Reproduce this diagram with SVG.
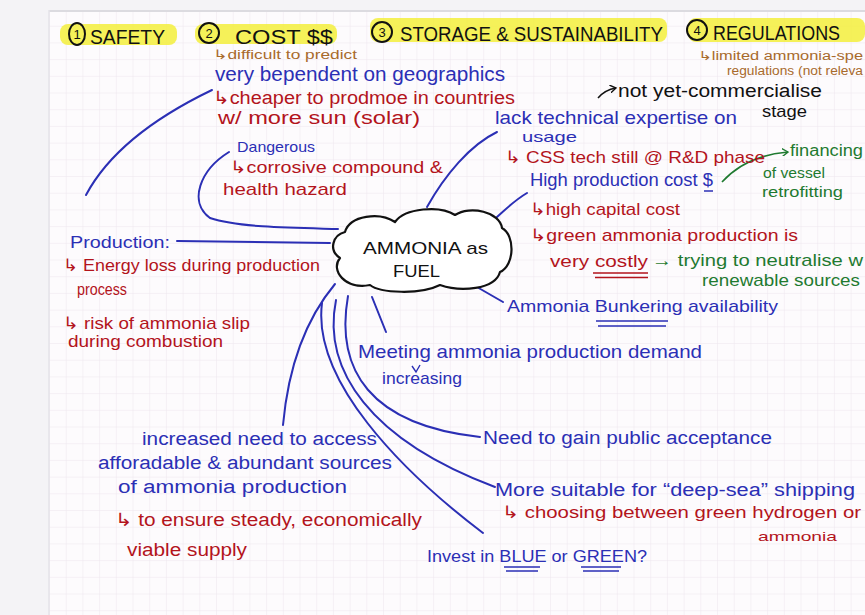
<svg xmlns="http://www.w3.org/2000/svg" width="865" height="615" viewBox="0 0 865 615">
<style>
text{font-family:"Liberation Sans","DejaVu Sans",sans-serif;}
.b{fill:#2b2fb5}
.r{fill:#b3141c}
.g{fill:#1f7a30}
.br{fill:#a86a2c}
.k{fill:#111}
.h{fill:#111;font-size:20px}
.hl{fill:#f3ef3c;opacity:0.85}
.ln{fill:none;stroke:#2b2fb5;stroke-width:2;stroke-linecap:round}
.cl{fill:#fff;stroke:#111;stroke-width:2.2;stroke-linejoin:round}
.circ{fill:none;stroke:#111;stroke-width:2}
</style>
<defs>
<pattern id="grid" x="50" y="10" width="16.7" height="16.7" patternUnits="userSpaceOnUse">
<path d="M16.7 0 V16.7 M0 16.7 H16.7" fill="none" stroke="#ede6ee" stroke-width="1"/>
</pattern>
<marker id="ah" markerWidth="8" markerHeight="8" refX="6" refY="4" orient="auto" markerUnits="userSpaceOnUse">
<path d="M0 0 L6 4 L0 8" fill="none" stroke="context-stroke" stroke-width="1.4"/>
</marker>
</defs>
<rect width="865" height="615" fill="#f4f3f6"/>
<rect x="49" y="10" width="816" height="605" fill="#fdfbfd"/>
<rect x="49" y="10" width="816" height="605" fill="url(#grid)"/>
<line x1="49" y1="11" x2="865" y2="11" stroke="#dcdbe0" stroke-width="2"/>
<line x1="49" y1="10" x2="49" y2="615" stroke="#e4e3e8" stroke-width="1.5"/>

<g id="headers">
<rect class="hl" x="60" y="24" width="117" height="21" rx="8"/>
<rect class="hl" x="195" y="24" width="142" height="20" rx="8"/>
<rect class="hl" x="370" y="18" width="297" height="24" rx="8"/>
<rect class="hl" x="688" y="18" width="177" height="24" rx="8"/>
<ellipse class="circ" cx="77" cy="34" rx="8" ry="11"/>
<text class="k" x="77" y="39" font-size="13" text-anchor="middle">1</text>
<text class="h" x="90" y="44" textLength="75" lengthAdjust="spacingAndGlyphs">SAFETY</text>
<circle class="circ" cx="209" cy="33" r="10"/>
<text class="k" x="209" y="38" font-size="13" text-anchor="middle">2</text>
<text class="h" x="235" y="44" textLength="98" lengthAdjust="spacingAndGlyphs">COST $$</text>
<circle class="circ" cx="382" cy="32" r="10"/>
<text class="k" x="382" y="37" font-size="13" text-anchor="middle">3</text>
<text class="h" x="400" y="41" textLength="263" lengthAdjust="spacingAndGlyphs">STORAGE &amp; SUSTAINABILITY</text>
<circle class="circ" cx="697" cy="30" r="10"/>
<text class="k" x="697" y="35" font-size="13" text-anchor="middle">4</text>
<text class="h" x="713" y="40" textLength="127" lengthAdjust="spacingAndGlyphs">REGULATIONS</text>
</g>

<g id="connectors">
<path class="ln" d="M212 90 C160 115 110 150 86 195"/>
<path class="ln" d="M229 152 C200 170 188 202 210 218 C240 228 300 228 338 229"/>
<path class="ln" d="M177 241 L330 243"/>
<path class="ln" d="M427 207 C445 175 470 145 497 132"/>
<path class="ln" d="M497 217 C507 208 515 200 527 193"/>
<path class="ln" d="M470 283 L503 302"/>
<path class="ln" d="M335 284 C305 320 288 370 283 425"/>
<path class="ln" d="M372 297 L386 332"/>
<path class="ln" d="M348 296 C335 370 370 425 480 437"/>
<path class="ln" d="M336 300 C322 370 370 440 495 487"/>
<path class="ln" d="M322 303 C312 380 400 470 483 533"/>
<path d="M598 98 C603 92 610 89 616 88" fill="none" stroke="#111" stroke-width="1.5" marker-end="url(#ah)"/>
<path d="M722 182 C740 162 765 154 788 152" fill="none" stroke="#1f7a30" stroke-width="1.6" marker-end="url(#ah)"/>
</g>

<g id="node-ammonia">
<path class="cl" d="M345 232 C350 215 380 212 395 222 C405 208 440 205 455 215 C470 205 500 212 502 228 C515 235 515 265 500 272 C495 290 460 292 440 285 C420 295 380 293 370 285 C345 290 330 270 340 258 C328 250 333 235 345 232 Z"/>
<text class="k" x="363" y="254" font-size="17" textLength="125" lengthAdjust="spacingAndGlyphs">AMMONIA as</text>
<text class="k" x="393" y="277" font-size="17" textLength="47" lengthAdjust="spacingAndGlyphs">FUEL</text>
</g>

<g id="node-geographics">
<text class="br" x="213" y="59" font-size="13" textLength="144" lengthAdjust="spacingAndGlyphs">↳difficult to predict</text>
<text class="b" x="215" y="81" font-size="20" textLength="290" lengthAdjust="spacingAndGlyphs">very bependent on geographics</text>
<text class="r" x="213" y="104" font-size="18" textLength="302" lengthAdjust="spacingAndGlyphs">↳cheaper to prodmoe in countries</text>
<text class="r" x="218" y="124" font-size="18" textLength="202" lengthAdjust="spacingAndGlyphs">w/ more sun (solar)</text>
</g>

<g id="node-dangerous">
<text class="b" x="237" y="152" font-size="15" textLength="78" lengthAdjust="spacingAndGlyphs">Dangerous</text>
<text class="r" x="230" y="173" font-size="17" textLength="213" lengthAdjust="spacingAndGlyphs">↳corrosive compound &amp;</text>
<text class="r" x="223" y="195" font-size="17" textLength="124" lengthAdjust="spacingAndGlyphs">health hazard</text>
</g>

<g id="node-regulations">
<text class="br" x="698" y="60" font-size="12.5" textLength="165" lengthAdjust="spacingAndGlyphs">↳limited ammonia-spe</text>
<text class="br" x="727" y="75" font-size="12.5" textLength="136" lengthAdjust="spacingAndGlyphs">regulations (not releva</text>
</g>

<g id="node-expertise">
<text class="k" x="618" y="97" font-size="18" textLength="204" lengthAdjust="spacingAndGlyphs">not yet-commercialise</text>
<text class="k" x="762" y="117" font-size="17" textLength="45" lengthAdjust="spacingAndGlyphs">stage</text>
<text class="b" x="495" y="124" font-size="19" textLength="242" lengthAdjust="spacingAndGlyphs">lack technical expertise on</text>
<text class="b" x="522" y="142" font-size="15" textLength="55" lengthAdjust="spacingAndGlyphs">usage</text>
<text class="r" x="505" y="163" font-size="17" textLength="260" lengthAdjust="spacingAndGlyphs">↳ CSS tech still @ R&amp;D phase</text>
</g>

<g id="node-cost">
<text class="g" x="790" y="156" font-size="16" textLength="73" lengthAdjust="spacingAndGlyphs">financing</text>
<text class="g" x="763" y="178" font-size="15" textLength="62" lengthAdjust="spacingAndGlyphs">of vessel</text>
<text class="g" x="762" y="197" font-size="15" textLength="81" lengthAdjust="spacingAndGlyphs">retrofitting</text>
<text class="b" x="530" y="186" font-size="18" textLength="183" lengthAdjust="spacingAndGlyphs">High production cost $</text>
<line x1="704" y1="191" x2="713" y2="191" stroke="#2b2fb5" stroke-width="1.5"/>
<text class="r" x="530" y="215" font-size="17" textLength="150" lengthAdjust="spacingAndGlyphs">↳high capital cost</text>
<text class="r" x="530" y="241" font-size="17" textLength="268" lengthAdjust="spacingAndGlyphs">↳green ammonia production is</text>
<text class="r" x="550" y="267" font-size="17" textLength="98" lengthAdjust="spacingAndGlyphs">very costly</text>
<path d="M593 273 H648 M595 277.5 H648" stroke="#b3141c" stroke-width="1.5" fill="none"/>
<text class="g" x="652" y="266" font-size="17" textLength="211" lengthAdjust="spacingAndGlyphs">→ trying to neutralise w</text>
<text class="g" x="702" y="286" font-size="17" textLength="158" lengthAdjust="spacingAndGlyphs">renewable sources</text>
</g>

<g id="node-bunkering">
<text class="b" x="507" y="312" font-size="17" textLength="271" lengthAdjust="spacingAndGlyphs">Ammonia Bunkering availability</text>
<path d="M596 321 H668 M598 326 H666" stroke="#2b2fb5" stroke-width="1.5" fill="none"/>
</g>

<g id="node-production">
<text class="b" x="70" y="248" font-size="17" textLength="100" lengthAdjust="spacingAndGlyphs">Production:</text>
<text class="r" x="63" y="271" font-size="17" textLength="257" lengthAdjust="spacingAndGlyphs">↳ Energy loss during production</text>
<text class="r" x="77" y="295" font-size="16" textLength="50" lengthAdjust="spacingAndGlyphs">process</text>
<text class="r" x="63" y="329" font-size="17" textLength="187" lengthAdjust="spacingAndGlyphs">↳ risk of ammonia slip</text>
<text class="r" x="68" y="347" font-size="17" textLength="155" lengthAdjust="spacingAndGlyphs">during combustion</text>
</g>

<g id="node-demand">
<text class="b" x="358" y="358" font-size="19" textLength="344" lengthAdjust="spacingAndGlyphs">Meeting ammonia production demand</text>
<path d="M412 366 L416 372 L420 365" fill="none" stroke="#2b2fb5" stroke-width="1.4"/>
<text class="b" x="382" y="384" font-size="17" textLength="80" lengthAdjust="spacingAndGlyphs">increasing</text>
</g>

<g id="node-access">
<text class="b" x="142" y="445" font-size="18" textLength="235" lengthAdjust="spacingAndGlyphs">increased need to access</text>
<text class="b" x="98" y="469" font-size="18" textLength="294" lengthAdjust="spacingAndGlyphs">afforadable &amp; abundant sources</text>
<text class="b" x="118" y="493" font-size="18" textLength="229" lengthAdjust="spacingAndGlyphs">of ammonia production</text>
<text class="r" x="115" y="526" font-size="18" textLength="307" lengthAdjust="spacingAndGlyphs">↳ to ensure steady, economically</text>
<text class="r" x="127" y="556" font-size="18" textLength="120" lengthAdjust="spacingAndGlyphs">viable supply</text>
</g>

<g id="node-public">
<text class="b" x="483" y="444" font-size="18" textLength="289" lengthAdjust="spacingAndGlyphs">Need to gain public acceptance</text>
</g>

<g id="node-deepsea">
<text class="b" x="495" y="496" font-size="18" textLength="360" lengthAdjust="spacingAndGlyphs">More suitable for “deep-sea” shipping</text>
<text class="r" x="502" y="518" font-size="17" textLength="359" lengthAdjust="spacingAndGlyphs">↳ choosing between green hydrogen or</text>
<text class="r" x="758" y="541" font-size="13" textLength="79" lengthAdjust="spacingAndGlyphs">ammonia</text>
</g>

<g id="node-invest">
<text class="b" x="427" y="562" font-size="17" textLength="220" lengthAdjust="spacingAndGlyphs">Invest in BLUE or GREEN?</text>
<path d="M504 567 H540 M506 571 H538 M581 567 H621 M583 571 H619" stroke="#2b2fb5" stroke-width="1.5" fill="none"/>
</g>
</svg>
